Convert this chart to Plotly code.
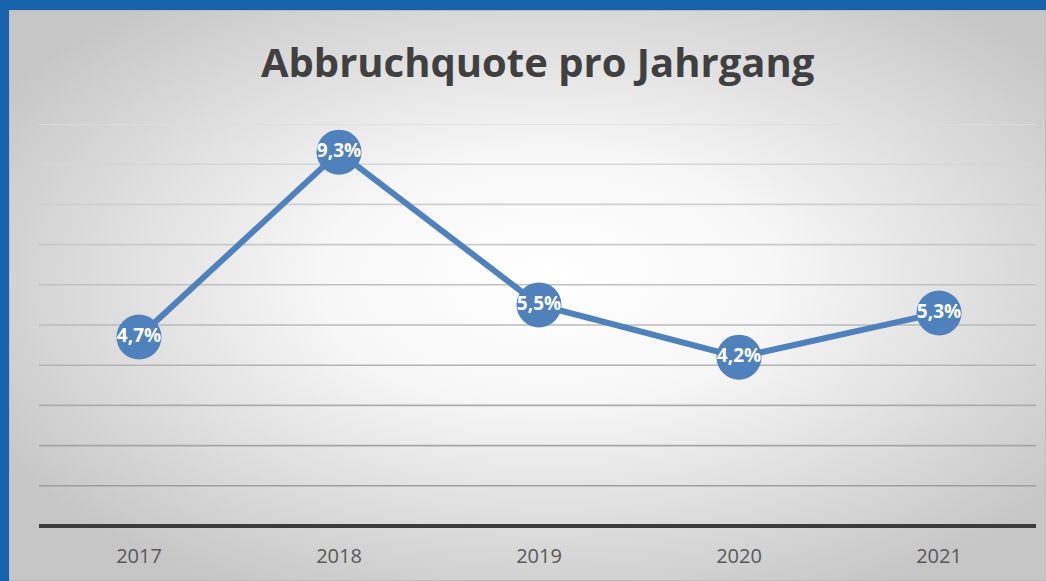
import base64
import plotly.graph_objects as go

years = ["2017", "2018", "2019", "2020", "2021"]
quote = [4.7, 9.3, 5.5, 4.2, 5.3]
grid_values = [1, 2, 3, 4, 5, 6, 7, 8, 9, 10]
title_text = "Abbruchquote pro Jahrgang"

W, H = 1046, 581
ml, mr, mt, mb = 39, 7, 124, 55
pw, ph = W - ml - mr, H - mt - mb

svg = (
    '<svg xmlns="http://www.w3.org/2000/svg" width="1037" height="571" viewBox="0 0 1037 571" preserveAspectRatio="none">'
    '<defs><radialGradient id="g" cx="0.52" cy="0.47" r="0.62">'
    '<stop offset="0" stop-color="#ffffff"/><stop offset="0.35" stop-color="#f7f7f7"/>'
    '<stop offset="1" stop-color="#c6c6c6"/></radialGradient></defs>'
    '<rect x="0" y="0" width="1037" height="571" fill="url(#g)"/>'
    '<rect x="0.5" y="0.5" width="1036" height="570" fill="none" stroke="#bdbdbd" stroke-width="1"/>'
    '</svg>'
)
src = "data:image/svg+xml;base64," + base64.b64encode(svg.encode()).decode()

fig = go.Figure()
fig.add_trace(go.Scatter(
    x=years, y=quote, mode="lines+markers+text",
    line=dict(color="#4F81BD", width=6),
    marker=dict(color="#4F81BD", size=45, line=dict(width=0)),
    texttemplate="%{y:.1f}%", textposition="middle center",
    textfont=dict(family="Open Sans", size=19, color="#ffffff", weight="bold"),
    cliponaxis=False, hoverinfo="skip", showlegend=False,
))

# gridlines with vertical colour fade (lighter at top)
for v in grid_values:
    t = (v - 1) / 9.0
    c0, c1 = 0x9E, 0xDE
    c = int(c0 + (c1 - c0) * t)
    fig.add_shape(type="line", xref="paper", yref="y", x0=0, x1=0.997, y0=v, y1=v,
                  line=dict(color=f"rgb({c},{c},{c})", width=1.6), layer="below")
# axis line
fig.add_shape(type="line", xref="paper", yref="paper", x0=0, x1=0.997, y0=0, y1=0,
              line=dict(color="#3c3c3c", width=4), layer="below")

fig.add_layout_image(dict(
    source=src, xref="paper", yref="paper",
    x=(9 - ml) / pw, y=(H - mb - 10) / ph,
    sizex=(W - 9) / pw, sizey=(H - 10) / ph,
    xanchor="left", yanchor="top", sizing="stretch", layer="below",
))

fig.update_layout(
    width=W, height=H,
    margin=dict(l=ml, r=mr, t=mt, b=mb),
    paper_bgcolor="#1862AB", plot_bgcolor="rgba(0,0,0,0)",
    separators=",.",
    title=dict(text=title_text, x=0.514, xanchor="center", y=1 - 63 / H, yanchor="middle",
               font=dict(family="Open Sans", size=40, color="#404040", weight="bold")),
    xaxis=dict(type="category", range=[-0.5, 4.5], showgrid=False, zeroline=False,
               showline=False, ticks="", ticklabelstandoff=16,
               tickfont=dict(family="Open Sans", size=20, color="#595959")),
    yaxis=dict(range=[0, 10], showgrid=False, zeroline=False, showticklabels=False,
               showline=False, ticks=""),
)

fig.write_html("out.html", config={"displayModeBar": False},
               post_script="document.body.style.margin='0';document.body.style.overflow='hidden';")
